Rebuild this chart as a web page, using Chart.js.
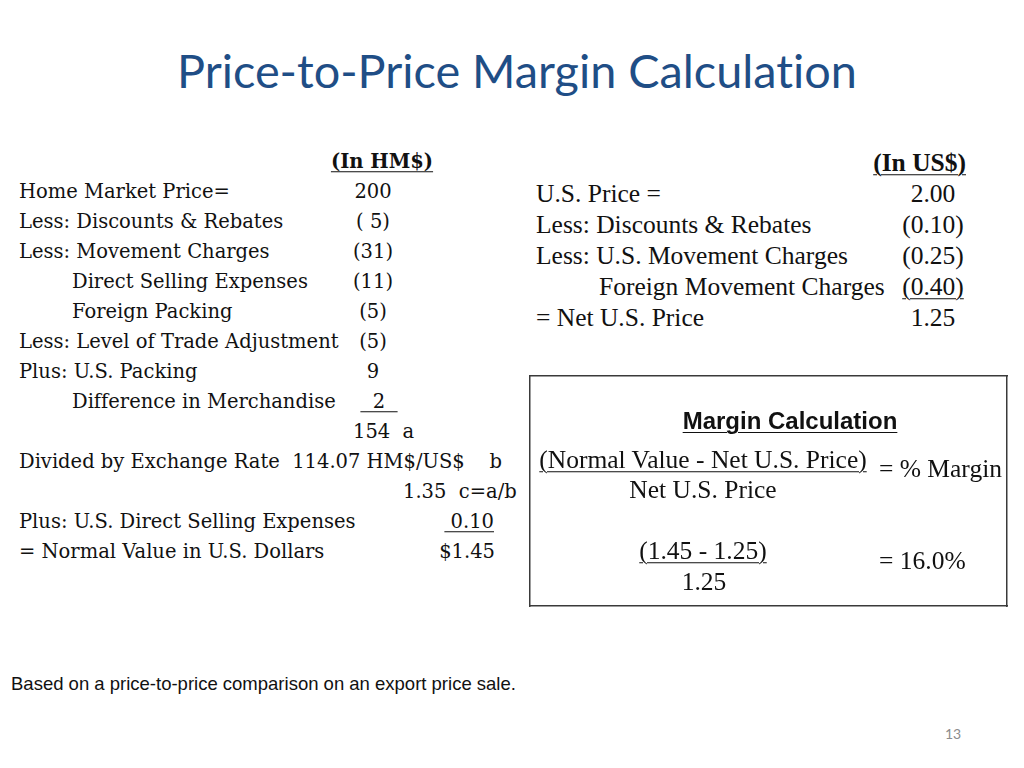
<!DOCTYPE html>
<html>
<head>
<meta charset="utf-8">
<script src="https://cdn.jsdelivr.net/npm/chart.js@4.4.1/dist/chart.umd.min.js"></script>
<style>
  html, body { margin: 0; padding: 0; background: #fff; }
  #slide { position: relative; width: 1024px; height: 768px; overflow: hidden; }
  .t { position: absolute; white-space: pre; line-height: 1; color: #111; font-variant-ligatures: none; }
  .hm { font-family: "DejaVu Serif", serif; font-size: 19.5px; }
  .us { font-family: "Liberation Serif", serif; font-size: 25.5px; }
  .u { text-decoration: underline; text-underline-offset: 3px; text-decoration-thickness: 1px; }
  .b { font-weight: bold; }
  #boxWrap { position: absolute; left: 529px; top: 375px; width: 479px; height: 232px; }
</style>
</head>
<body>
<div id="slide">
  <div id="boxWrap"><canvas id="marginBox"></canvas></div>
</div>
<script>
// Home market side (HM$)
const hmLabels = ['Home Market Price=', 'Less: Discounts & Rebates', 'Less: Movement Charges',
    'Direct Selling Expenses', 'Foreign Packing', 'Less: Level of Trade Adjustment',
    'Plus: U.S. Packing', 'Difference in Merchandise'];
const hmValues = ['200', '( 5)', '(31)', '(11)', '(5)', '(5)', '9', '2'];
const hmTotal = '154  a';
const exchangeLabel = 'Divided by Exchange Rate  114.07 HM$/US$    b';
const hmInUs = '1.35  c=a/b';
const usDirectLabel = 'Plus: U.S. Direct Selling Expenses';
const usDirectValue = '0.10';
const normalLabel = '= Normal Value in U.S. Dollars';
const normalValue = '$1.45';

// U.S. side (US$)
const usLabels = ['U.S. Price =', 'Less: Discounts & Rebates', 'Less: U.S. Movement Charges',
    'Foreign Movement Charges', '= Net U.S. Price'];
const usValues = ['2.00', '(0.10)', '(0.25)', '(0.40)', '1.25'];

// margin box
const marginFormula = ['(Normal Value - Net U.S. Price)', 'Net U.S. Price', '= % Margin'];
const marginNumbers = ['(1.45 - 1.25)', '1.25', '= 16.0%'];

const slide = document.getElementById('slide');
function put(text, x, y, cls, align, extra) {
    const d = document.createElement('div');
    d.className = 't ' + (cls || '');
    d.textContent = text;
    d.style.left = x + 'px';
    d.style.top = y + 'px';
    const tx = align === 'c' ? '-50%' : align === 'r' ? '-100%' : '0';
    d.style.transform = 'translate(' + tx + ',-50%)';
    if (extra) Object.assign(d.style, extra);
    slide.appendChild(d);
    return d;
}

// title
put('Price-to-Price Margin Calculation', 517, 70, '', 'c',
    { fontFamily: 'Lato, "Open Sans", sans-serif', fontSize: '46.8px', color: '#1f4e86' });

// left block
const indented = ['Direct Selling Expenses', 'Foreign Packing', 'Difference in Merchandise'];
put('(In HM$)', 382, 162, 'hm b u', 'c');
hmLabels.forEach((lab, i) => {
    const y = 192 + i * 30;
    put(lab, indented.includes(lab) ? 72 : 19, y, 'hm', 'l');
});
hmValues.forEach((v, i) => {
    const y = 192 + i * 30;
    if (i === hmValues.length - 1) {
        put('\u00a0\u00a0' + v + '\u00a0\u00a0', 379, y, 'hm u', 'c');
    } else {
        put(v, 373, y, 'hm', 'c');
    }
});
put(hmTotal, 353, 432, 'hm', 'l');
put(exchangeLabel, 19, 462, 'hm', 'l');
put(hmInUs, 403, 492, 'hm', 'l');
put(usDirectLabel, 19, 522, 'hm', 'l');
put('\u00a0' + usDirectValue, 494, 522, 'hm u', 'r');
put(normalLabel, 19, 552, 'hm', 'l');
put(normalValue, 495, 552, 'hm', 'r');

// right block
put('(In US$)', 966, 163, 'us b u', 'r');
usLabels.forEach((lab, i) => {
    const y = 194 + i * 31;
    put(lab, lab === 'Foreign Movement Charges' ? 599 : 536, y, 'us', 'l');
});
usValues.forEach((v, i) => {
    const y = 194 + i * 31;
    put(v, 933, y, 'us' + (i === 3 ? ' u' : ''), 'c');
});

// margin box contents
put('Margin Calculation', 790, 421, 'b u', 'c',
    { fontFamily: '"Liberation Sans", Arial, sans-serif', fontSize: '24px' });
put(marginFormula[0], 703, 460, 'us u', 'c');
put(marginFormula[1], 703, 490, 'us', 'c');
put(marginFormula[2], 879, 469, 'us', 'l');
put(marginNumbers[0], 703, 551, 'us u', 'c');
put(marginNumbers[1], 704, 582, 'us', 'c');
put(marginNumbers[2], 879, 561, 'us', 'l');

// footer
put('Based on a price-to-price comparison on an export price sale.', 11, 684, '', 'l',
    { fontFamily: '"Liberation Sans", Arial, sans-serif', fontSize: '18.5px' });
put('13', 953, 734, '', 'c',
    { fontFamily: 'Lato, sans-serif', fontSize: '14px', color: '#8c8c8c' });

// the box round the margin calculation: four empty axes of a Chart.js chart
const edge = {
    ticks: { display: false },
    grid: { display: false, drawTicks: false },
    border: { display: true, color: '#3a3a3a', width: 1.5 }
};
new Chart(document.getElementById('marginBox').getContext('2d'), {
    type: 'scatter',
    data: { datasets: [] },
    options: {
        responsive: true,
        maintainAspectRatio: false,
        animation: false,
        events: [],
        layout: { padding: 1 },
        plugins: { legend: { display: false }, tooltip: { enabled: false } },
        scales: {
            x: { position: 'bottom', ...edge },
            x2: { position: 'top', ...edge },
            y: { position: 'left', ...edge },
            y2: { position: 'right', ...edge }
        }
    }
});
</script>
</body>
</html>
